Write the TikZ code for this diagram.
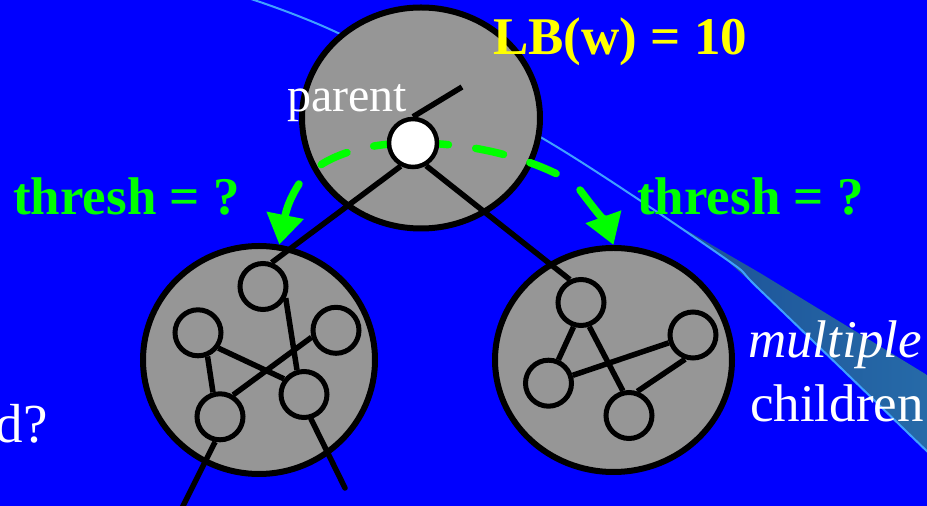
\documentclass[tikz,border=0pt]{standalone}
\usepackage{fontspec}
\setmainfont{Liberation Serif}
\usetikzlibrary{arrows.meta,shapes.geometric}

\definecolor{slideblue}{RGB}{0,0,255}
\definecolor{blobgray}{RGB}{150,150,150}
\definecolor{threshgreen}{RGB}{0,255,0}
\definecolor{lbyellow}{RGB}{255,255,0}
\definecolor{streak}{RGB}{64,160,255}
\definecolor{banddark}{RGB}{28,80,150}
\definecolor{bandlight}{RGB}{38,106,168}

\pgfdeclarelayer{front}
\pgfsetlayers{main,front}

\begin{document}
\begin{tikzpicture}[x=1pt,y=1pt,
  blob/.style={ellipse,draw=black,line width=6pt,fill=blobgray,inner sep=0pt},
  vertex/.style={circle,draw=black,line width=5pt,fill=blobgray,minimum size=46pt,inner sep=0pt},
  hole/.style={circle,draw=black,line width=4.5pt,fill=white,minimum size=48pt,inner sep=0pt},
  link/.style={black,line width=5.5pt},
  guess/.style={threshgreen,line width=7.5pt,line cap=round},
  lbl/.style={inner sep=0pt,anchor=base west,font=\fontsize{53}{60}\selectfont}]

% slide background
\fill[slideblue] (0,0) rectangle (927,506);
\useasboundingbox (0,0) rectangle (927,506);

% streak of the slide template
\shade[left color=banddark,right color=bandlight] (667,287) -- (760,233) -- (927,131)
  -- (927,54) -- (907,74) -- (760,216) -- (723,249) -- cycle;
\draw[streak,line width=2pt] plot[smooth] coordinates
  {(245,509) (338,473) (542,368) (723,249) (760,216) (907,74) (930,52)};

% parent and children
\node[blob,minimum width=238pt,minimum height=221pt] (par) at (421,388) {};
\node[blob,minimum width=232pt,minimum height=228pt] (left) at (259,146) {};
\node[blob,minimum width=237pt,minimum height=224pt] (right) at (613.5,146) {};

\begin{pgfonlayer}{front}
  \node[hole] (w) at (413,363) {};
\end{pgfonlayer}

% left child graph
\node[vertex] (l1) at (263,219.5) {};
\node[vertex] (l2) at (198,173.2) {};
\node[vertex] (l3) at (336,175.7) {};
\node[vertex] (l4) at (220,89.2) {};
\node[vertex] (l5) at (304,111.5) {};

% right child graph
\node[vertex] (r1) at (581,203.5) {};
\node[vertex] (r2) at (548.5,122.8) {};
\node[vertex] (r3) at (693,171) {};
\node[vertex] (r4) at (629,90.5) {};

\coordinate (up) at (462,419);
\coordinate (down1) at (181,-4);
\coordinate (down2) at (345,18);

\draw[link] (w.north) -- (up);
\draw[link] (w.242) -- (l1.70);
\draw[link] (w.300) -- (r1.116);
\draw[link] (l1.333) -- (l5.106);
\draw[link] (l2.323) -- (l5.142);
\draw[link] (l2.292) -- (l4.106);
\draw[link] (l3.196) -- (l4.59);
\draw[link] (l4.259) -- (down1);
\draw[link,line cap=round] (l5.286) -- (down2);
\draw[link] (r1.253) -- (r2.67);
\draw[link] (r1.289) -- (r4.104);
\draw[link] (r2.18) -- (r3.198);
\draw[link] (r3.252) -- (r4.71);

% threshold arrows
\coordinate (dashL) at (319,340);
\coordinate (shaftL) at (299,322);
\coordinate (dashR) at (557,332);
\coordinate (shaftR) at (580,316);
\draw[guess,dash pattern=on 28.5pt off 27.5pt,dash phase=45pt]
  (w.center) .. controls (370,363) and (338,353) .. (dashL);
\draw[guess,-{Triangle[length=30pt,width=36pt]}]
  (shaftL) .. controls (292,311) and (287,300) .. (left.80);
\draw[guess,dash pattern=on 28.5pt off 27.5pt,dash phase=49pt]
  (w.center) .. controls (470,363) and (520,350) .. (dashR);
\draw[guess,-{Triangle[length=30pt,width=36pt]}]
  (shaftR) .. controls (592,300) and (606,282) .. (right.north);

% labels
\node[lbl,text=lbyellow,font=\fontsize{53}{60}\selectfont\bfseries] (lb) at (493,451) {LB(w) = 10};
\node[lbl,text=white,font=\fontsize{48}{56}\selectfont] (ptext) at (287,394) {parent};
\node[lbl,text=threshgreen,font=\fontsize{53}{60}\selectfont\bfseries] (tleft) at (13,291) {thresh = ?};
\node[lbl,text=threshgreen,font=\fontsize{53}{60}\selectfont\bfseries] (tright) at (637,291) {thresh = ?};
\node[lbl,text=white,font=\fontsize{53}{60}\selectfont\itshape] (multi) at (748,148) {multiple};
\node[lbl,text=white] (kids) at (750,84) {children};
\node[lbl,text=white,anchor=base east,font=\fontsize{55}{60}\selectfont] (cut) at (48,63) {d?};
\end{tikzpicture}
\end{document}
